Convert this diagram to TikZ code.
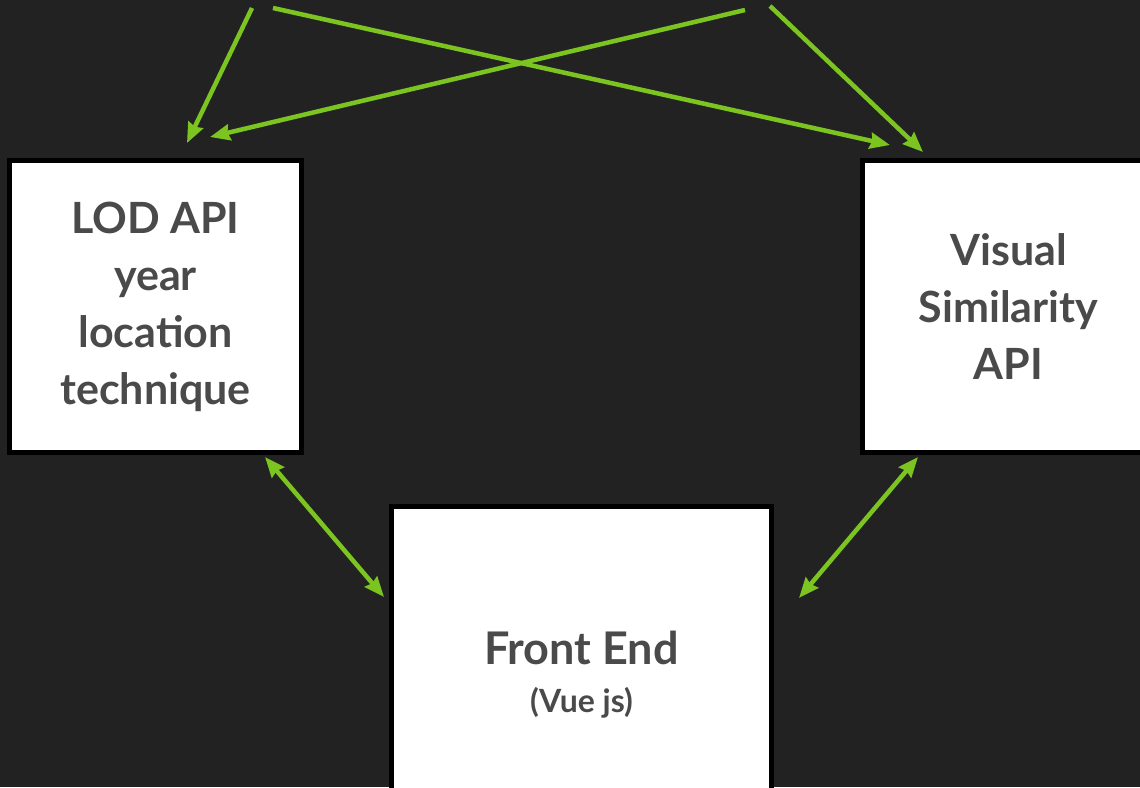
\documentclass[tikz,border=0pt]{standalone}
\usepackage{fontspec}
\setmainfont{Lato}
\usetikzlibrary{arrows.meta,calc}
\definecolor{bg}{HTML}{222222}
\definecolor{grn}{HTML}{7CC520}
\definecolor{txt}{HTML}{4A4A4A}
\begin{document}
\begin{tikzpicture}[x=1pt,y=-1pt,
  box/.style={draw=black, fill=white, line width=5pt, minimum width=292pt, minimum height=292pt,
    inner sep=0pt, align=center, font=\fontsize{43}{57}\selectfont\bfseries, text=txt},
  conn/.style={draw=grn, line width=4.5pt, -{Stealth[length=20pt,width=16pt,inset=2pt]}},
  conn2/.style={draw=grn, line width=4.5pt, {Stealth[length=20pt,width=16pt,inset=2pt]}-{Stealth[length=20pt,width=16pt,inset=2pt]}}]
\path[use as bounding box] (0,0) rectangle (1140,787);
\fill[bg] (0,0) rectangle (1140,787);
\clip (0,0) rectangle (1140,787);

\node[box] (lod) at (155.5,306.5) {LOD API\\year\\location\\technique};
\node[box] (vis) at (1008.5,306.5) {Visual\\Similarity\\API};
\node[box, minimum width=380pt, minimum height=337pt, font=\fontsize{45}{48}\selectfont\bfseries] (fe) at (581.5,675)
  {Front End\\{\fontsize{32}{48}\selectfont (Vue js)}};

\coordinate (s1) at (252,8);  \coordinate (e1) at (187,143);
\coordinate (s2) at (745,10); \coordinate (e2) at (210,137);
\coordinate (s3) at (273,8);  \coordinate (e3) at (890,145);
\coordinate (s4) at (770,6);  \coordinate (e4) at (923,152);
\coordinate (a1) at (265,457); \coordinate (b1) at (384,597);
\coordinate (a2) at (918,457); \coordinate (b2) at (799,598);

\draw[conn] (s1) -- (e1);
\draw[conn] (s2) -- (e2);
\draw[conn] (s3) -- (e3);
\draw[conn] (s4) -- (e4);
\draw[conn2] (a1) -- (b1);
\draw[conn2] (a2) -- (b2);
\end{tikzpicture}
\end{document}
